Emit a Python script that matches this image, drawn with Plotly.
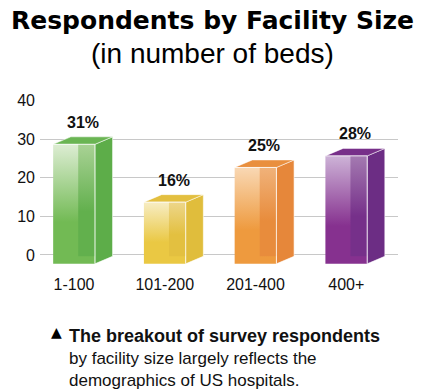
import plotly.graph_objects as go

# ---- data ----
categories = ["1-100", "101-200", "201-400", "400+"]
percent = [31, 16, 25, 28]
pct_labels = ["31%", "16%", "25%", "28%"]
y_ticks = [0, 10, 20, 30, 40]

title = "Respondents by Facility Size"
subtitle = "(in number of beds)"
note_bold = "The breakout of survey respondents"
note_rest = ["by facility size largely reflects the", "demographics of US hospitals."]

# ---- styles ----
BASE = -2.3
W = 0.46      # front face width (category units)
DX = 0.195    # depth offset x
DY = 1.95     # depth offset y
INNER = 0.6   # fraction where back face edge shows through
palette = [
    dict(side="#5DAD49", top="#6AB553", front_b="#72BA54", front_t="#DDEDD3", back_t="#A9D295", back_b="#62B04D"),
    dict(side="#E0BD3C", top="#E3BF3F", front_b="#EAC843", front_t="#F7EDC4", back_t="#EDD68A", back_b="#E3C040"),
    dict(side="#E6873A", top="#E98F3E", front_b="#EE9A3E", front_t="#F9D8B4", back_t="#F0B27A", back_b="#E88C3C"),
    dict(side="#6C2D84", top="#772F89", front_b="#86318F", front_t="#CDB3D7", back_t="#A47AB1", back_b="#76308A"),
]

fig = go.Figure()

for i, (cat, p) in enumerate(zip(categories, percent)):
    c = palette[i]
    top = BASE + p
    xl, xr = i - W / 2, i + W / 2
    xi = xl + INNER * W
    # side face
    fig.add_trace(go.Scatter(
        x=[xr, xr + DX, xr + DX, xr, xr], y=[BASE, BASE + DY, top + DY, top, BASE],
        fill="toself", fillcolor=c["side"], mode="lines",
        line=dict(color="rgba(255,255,255,0.6)", width=1), hoverinfo="skip", showlegend=False))
    # top face
    fig.add_trace(go.Scatter(
        x=[xl, xr, xr + DX, xl + DX, xl], y=[top, top, top + DY, top + DY, top],
        fill="toself", fillcolor=c["top"], mode="lines",
        line=dict(color="rgba(255,255,255,0.5)", width=1), hoverinfo="skip", showlegend=False))
    # front face (light, gradient)
    fig.add_trace(go.Scatter(
        x=[xl, xr, xr, xl, xl], y=[BASE, BASE, top, top, BASE],
        fill="toself", mode="lines",
        fillgradient=dict(type="vertical", start=BASE, stop=top,
                          colorscale=[[0, c["front_b"]], [0.35, c["front_b"]], [1, c["front_t"]]]),
        line=dict(color="rgba(0,0,0,0)", width=0), hoverinfo="skip", showlegend=False))
    # back face seen through front
    fig.add_trace(go.Scatter(
        x=[xi, xr, xr, xi, xi], y=[BASE + DY, BASE + DY, top, top, BASE + DY],
        fill="toself", mode="lines",
        fillgradient=dict(type="vertical", start=BASE + DY, stop=top,
                          colorscale=[[0, c["back_b"]], [0.4, c["back_b"]], [1, c["back_t"]]]),
        line=dict(color="rgba(0,0,0,0)", width=0), hoverinfo="skip", showlegend=False))
    # front edge highlight
    fig.add_trace(go.Scatter(
        x=[xr, xr, xl], y=[BASE, top, top], mode="lines",
        line=dict(color="rgba(255,255,255,0.75)", width=1), hoverinfo="skip", showlegend=False))
    # percentage label
    fig.add_annotation(x=i + DX / 2, y=top + DY, text="<b>%s</b>" % pct_labels[i],
                       showarrow=False, yanchor="bottom", yshift=4,
                       font=dict(family="Liberation Sans, Arial", size=16, color="#111"))

# titles
fig.add_annotation(xref="paper", yref="paper", x=0.482, y=1.0, yanchor="bottom", yshift=63,
                   text="<b>%s</b>" % title, showarrow=False,
                   font=dict(family="DejaVu Sans", size=25, color="#000"))
fig.add_annotation(xref="paper", yref="paper", x=0.482, y=1.0, yanchor="bottom", yshift=29,
                   text=subtitle, showarrow=False,
                   font=dict(family="Liberation Sans, Arial", size=28, color="#000"))
# footnote
fig.add_annotation(xref="paper", yref="paper", x=0.075, y=0, yanchor="top", xanchor="left", yshift=-57,
                   xshift=-18, text="▲", showarrow=False,
                   font=dict(family="DejaVu Sans", size=14, color="#000"))
fig.add_annotation(xref="paper", yref="paper", x=0.075, y=0, yanchor="top", xanchor="left", yshift=-59,
                   align="left",
                   text="<b><span style='font-size:18px'>%s</span></b><br>%s" % (note_bold, "<br>".join(note_rest)),
                   showarrow=False,
                   font=dict(family="Liberation Sans, Arial", size=17, color="#111"))

fig.update_layout(
    width=425, height=391,
    margin=dict(l=40, r=27, t=100, b=126),
    paper_bgcolor="white", plot_bgcolor="white",
    showlegend=False,
    xaxis=dict(range=[-0.375, 3.57], tickvals=list(range(len(categories))), ticktext=categories,
               showgrid=False, zeroline=False, showline=False, ticks="",
               ticklabelstandoff=8,
               tickfont=dict(family="Liberation Sans, Arial", size=16, color="#111"), fixedrange=True),
    yaxis=dict(range=[-2.6, 40.2], tickvals=y_ticks, showgrid=True, gridcolor="#C8C8C8", gridwidth=1,
               zeroline=False, showline=False, ticks="", ticklabelstandoff=4,
               tickfont=dict(family="Liberation Sans, Arial", size=16, color="#111"), fixedrange=True),
)

fig.write_html("out.html", config={"displayModeBar": False},
               post_script="document.body.style.margin='0';document.body.style.overflow='hidden';")
